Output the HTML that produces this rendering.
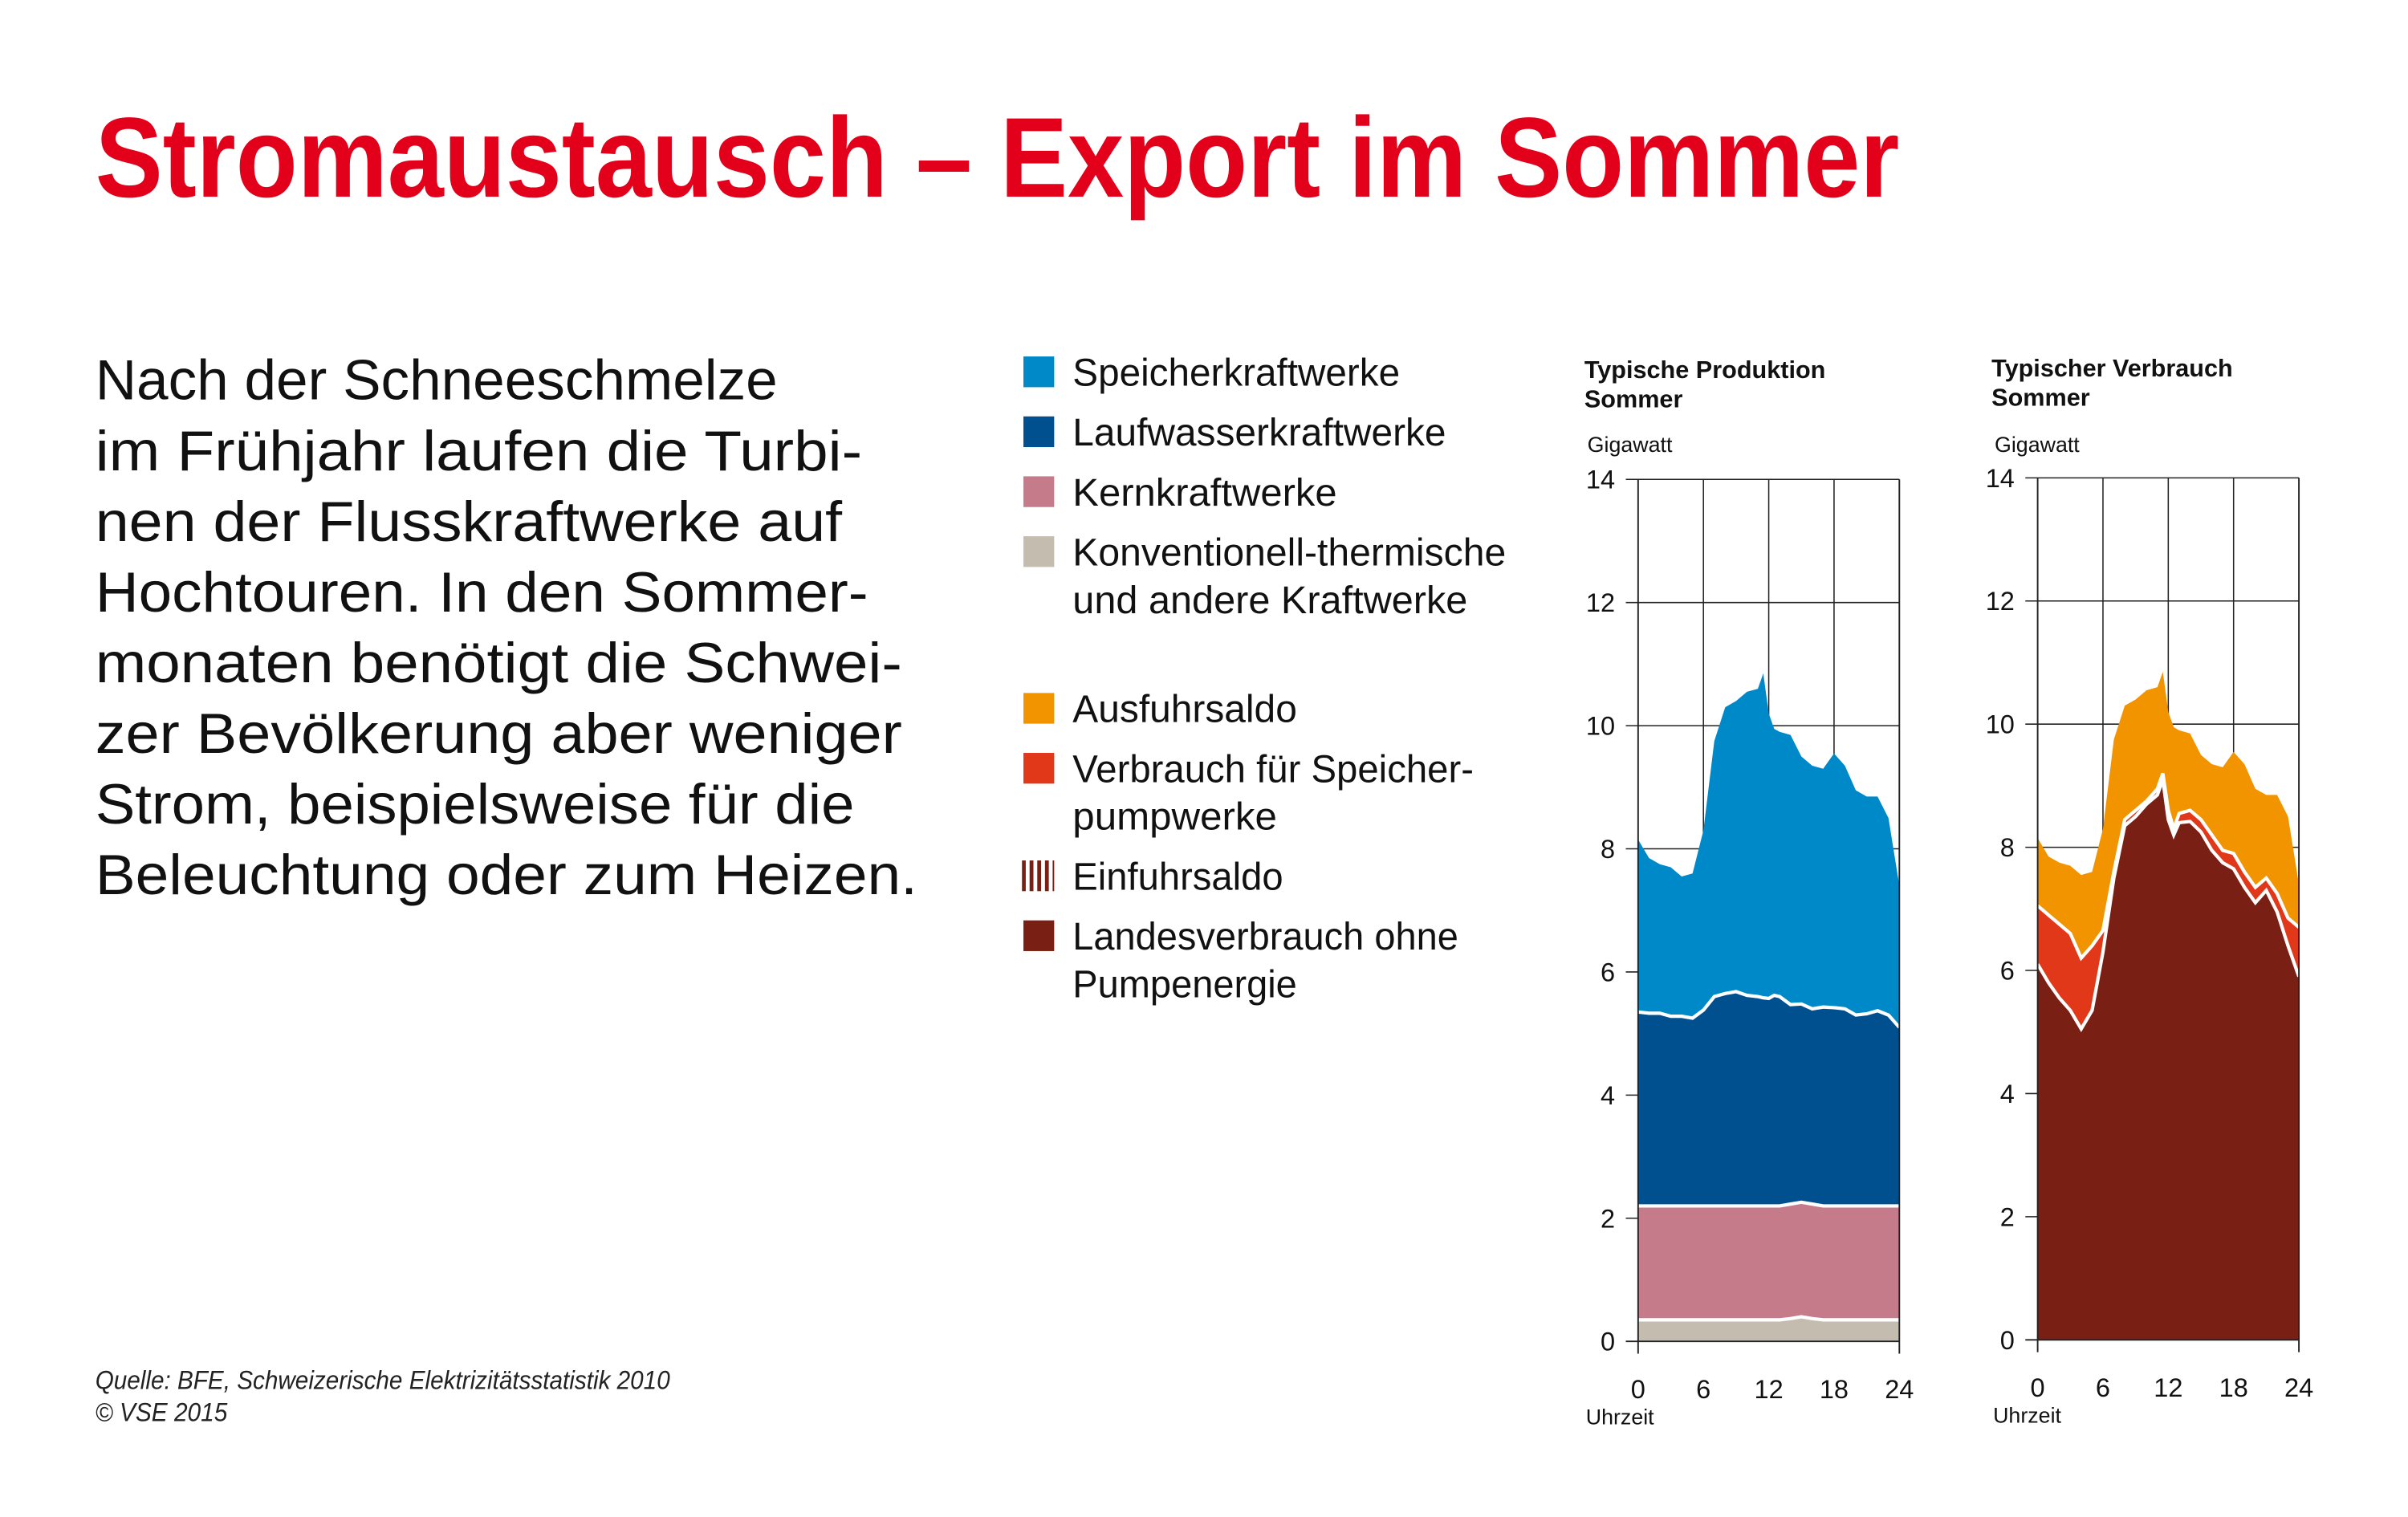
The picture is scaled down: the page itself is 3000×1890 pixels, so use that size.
<!DOCTYPE html>
<html><head><meta charset="utf-8"><style>
html,body{margin:0;padding:0;background:#fff;width:3000px;height:1890px;overflow:hidden}
svg{display:block}
text{font-family:"Liberation Sans Narrow","Liberation Sans",sans-serif}
</style></head><body>
<svg id="s" width="3000" height="1890" viewBox="0 0 1567 987.3" preserveAspectRatio="none" xmlns="http://www.w3.org/2000/svg">
<defs><pattern id="st" width="5" height="20" patternUnits="userSpaceOnUse"><rect width="5" height="20" fill="#fff"/><rect width="2.5" height="20" fill="#7a1f14"/></pattern></defs>
<text x="62" y="128" font-size="74" font-weight="bold" fill="#e2001a" textLength="1174" lengthAdjust="spacingAndGlyphs">Stromaustausch – Export im Sommer</text>
<g font-size="37" fill="#111">
<text x="62" y="260" textLength="444" lengthAdjust="spacingAndGlyphs">Nach der Schneeschmelze</text>
<text x="62" y="306" textLength="499" lengthAdjust="spacingAndGlyphs">im Frühjahr laufen die Turbi-</text>
<text x="62" y="352" textLength="486" lengthAdjust="spacingAndGlyphs">nen der Flusskraftwerke auf</text>
<text x="62" y="398" textLength="503" lengthAdjust="spacingAndGlyphs">Hochtouren. In den Sommer-</text>
<text x="62" y="444" textLength="525" lengthAdjust="spacingAndGlyphs">monaten benötigt die Schwei-</text>
<text x="62" y="490" textLength="525" lengthAdjust="spacingAndGlyphs">zer Bevölkerung aber weniger</text>
<text x="62" y="536" textLength="494" lengthAdjust="spacingAndGlyphs">Strom, beispielsweise für die</text>
<text x="62" y="582" textLength="535" lengthAdjust="spacingAndGlyphs">Beleuchtung oder zum Heizen.</text>
</g>
<g font-size="17" font-style="italic" fill="#222">
<text x="62" y="904" textLength="374" lengthAdjust="spacingAndGlyphs">Quelle: BFE, Schweizerische Elektrizitätsstatistik 2010</text>
<text x="62" y="925" textLength="86" lengthAdjust="spacingAndGlyphs">© VSE 2015</text>
</g>
<g font-size="25" fill="#111">
<rect x="666" y="232" width="20" height="20" fill="#0089c8"/>
<text x="698" y="251" textLength="213" lengthAdjust="spacingAndGlyphs">Speicherkraftwerke</text>
<rect x="666" y="271" width="20" height="20" fill="#00508f"/>
<text x="698" y="290" textLength="243" lengthAdjust="spacingAndGlyphs">Laufwasserkraftwerke</text>
<rect x="666" y="310" width="20" height="20" fill="#c67b8b"/>
<text x="698" y="329" textLength="172" lengthAdjust="spacingAndGlyphs">Kernkraftwerke</text>
<rect x="666" y="349" width="20" height="20" fill="#c5bcb0"/>
<text x="698" y="368" textLength="282" lengthAdjust="spacingAndGlyphs">Konventionell-thermische</text>
<text x="698" y="399" textLength="257" lengthAdjust="spacingAndGlyphs">und andere Kraftwerke</text>
<rect x="666" y="451" width="20" height="20" fill="#f29400"/>
<text x="698" y="470" textLength="146" lengthAdjust="spacingAndGlyphs">Ausfuhrsaldo</text>
<rect x="666" y="490" width="20" height="20" fill="#e2381a"/>
<text x="698" y="509" textLength="261" lengthAdjust="spacingAndGlyphs">Verbrauch für Speicher-</text>
<text x="698" y="540" textLength="133" lengthAdjust="spacingAndGlyphs">pumpwerke</text>
<rect x="665" y="560" width="21" height="20" fill="url(#st)"/>
<text x="698" y="579" textLength="137" lengthAdjust="spacingAndGlyphs">Einfuhrsaldo</text>
<rect x="666" y="599" width="20" height="20" fill="#7a1f14"/>
<text x="698" y="618" textLength="251" lengthAdjust="spacingAndGlyphs">Landesverbrauch ohne</text>
<text x="698" y="649" textLength="146" lengthAdjust="spacingAndGlyphs">Pumpenergie</text>
</g>
<g id="c1"></g><g id="c2"></g>
</svg>
<script>
var H=[0,1,2,3,4,5,6,7,8,9,10,11,11.5,12,12.5,13,14,15,16,17,18,19,20,21,22,23,24];
var TOT=[8.15,7.85,7.75,7.7,7.55,7.6,8.3,9.75,10.3,10.4,10.55,10.6,10.85,10.2,9.95,9.9,9.85,9.5,9.35,9.3,9.55,9.35,8.95,8.85,8.85,8.5,7.4];
var LW=[5.35,5.33,5.33,5.28,5.28,5.25,5.38,5.6,5.65,5.68,5.62,5.6,5.58,5.57,5.62,5.6,5.47,5.48,5.4,5.43,5.42,5.4,5.3,5.32,5.37,5.3,5.1];
var KK=H.map(function(h){return h==15?2.26:(h==14||h==16?2.23:2.2)});
var KV=H.map(function(h){return h==15?0.4:(h==14||h==16?0.37:0.35)});
var RD=[7.05,6.9,6.75,6.6,6.2,6.4,6.65,7.6,8.45,8.6,8.75,8.95,9.2,8.6,8.3,8.55,8.6,8.45,8.2,7.95,7.9,7.6,7.35,7.5,7.25,6.85,6.7];
var DK=[6.1,5.8,5.55,5.35,5.05,5.35,6.3,7.5,8.35,8.5,8.7,8.85,9.1,8.45,8.2,8.4,8.42,8.25,7.95,7.75,7.65,7.35,7.1,7.3,6.95,6.4,5.9];
var NS="http://www.w3.org/2000/svg";
function el(g,t,a,txt){var e=document.createElementNS(NS,t);for(var k in a)e.setAttribute(k,a[k]);if(txt!=null)e.textContent=txt;g.appendChild(e);return e;}
function chart(id,x0,y0,y14,tx,title,layers,lines){
 var g=document.getElementById(id),x1=x0+170,k=(y0-y14)/14;
 function X(h){return x0+h*170/24} function Y(v){return y0-v*k}
 for(var v=2;v<=14;v+=2){el(g,'line',{x1:x0-8,x2:x1,y1:Y(v),y2:Y(v),stroke:'#222','stroke-width':0.8});}
 [6,12,18].forEach(function(h){el(g,'line',{x1:X(h),x2:X(h),y1:y14,y2:y0,stroke:'#222','stroke-width':0.8});});
 layers.forEach(function(L){var d='M'+X(0)+','+y0;for(var i=0;i<H.length;i++)d+='L'+X(H[i]).toFixed(2)+','+Y(L[0][i]).toFixed(2);d+='L'+X(24)+','+y0+'Z';el(g,'path',{d:d,fill:L[1]});});
 lines.forEach(function(A){var d='';for(var i=0;i<H.length;i++)d+=(i?'L':'M')+X(H[i]).toFixed(2)+','+Y(A[i]).toFixed(2);el(g,'path',{d:d,fill:'none',stroke:'#fff','stroke-width':2.2});});
 el(g,'line',{x1:x0,x2:x0,y1:y14,y2:y0+8,stroke:'#222','stroke-width':1});
 el(g,'line',{x1:x1,x2:x1,y1:y14,y2:y0+8,stroke:'#222','stroke-width':1});
 el(g,'line',{x1:x0-8,x2:x1,y1:y0,y2:y0,stroke:'#222','stroke-width':1});
 for(var v=0;v<=14;v+=2)el(g,'text',{x:x0-15,y:Y(v)+6,'font-size':17,'text-anchor':'end',fill:'#111'},v);
 [0,6,12,18,24].forEach(function(h){el(g,'text',{x:X(h),y:y0+37,'font-size':17,'text-anchor':'middle',fill:'#111'},h);});
 el(g,'text',{x:tx,y:y0+54,'font-size':14,fill:'#111'},'Uhrzeit');
 el(g,'text',{x:tx+1,y:294,'font-size':14,fill:'#111'},'Gigawatt');
 el(g,'text',{x:tx-1,y:y14-66,'font-size':16,'font-weight':'bold',fill:'#111',textLength:title[1],lengthAdjust:'spacingAndGlyphs'},title[0]);
 el(g,'text',{x:tx-1,y:y14-47,'font-size':16,'font-weight':'bold',fill:'#111'},'Sommer');
}
chart('c1',1066,873,312,1032,['Typische Produktion',157],[[TOT,'#0089c8'],[LW,'#00508f'],[KK,'#c67b8b'],[KV,'#c5bcb0']],[LW,KK,KV]);
chart('c2',1326,872,311,1297,['Typischer Verbrauch',157],[[TOT,'#f29400'],[RD,'#e2381a'],[DK,'#7a1f14']],[RD,DK]);
</script>
</body></html>
